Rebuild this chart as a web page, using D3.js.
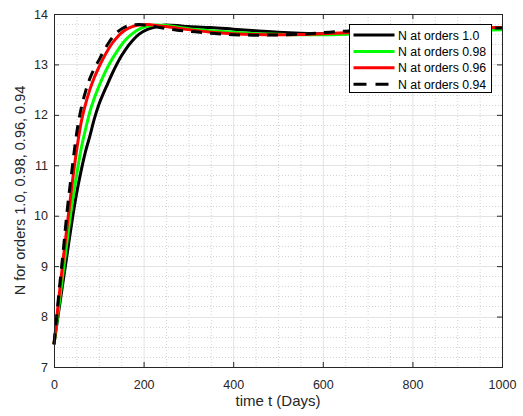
<!DOCTYPE html>
<html>
<head>
<meta charset="utf-8">
<script src="https://cdn.jsdelivr.net/npm/d3@7"></script>
<style>
  body { margin: 0; background: #fff; }
  svg { display: block; font-family: "Liberation Sans", Arial, Helvetica, sans-serif; }
</style>
</head>
<body>
<div id="chart"></div>
<script>
const times = [0, 10, 20, 30, 40, 50, 60, 70, 80, 90, 100, 110, 120, 130, 140, 150, 160, 175, 190, 210, 230, 250, 275, 300, 350, 400, 450, 500, 550, 600, 650, 700, 800, 900, 1000];

const order100 = [7.45, 8.07, 8.68, 9.28, 9.88, 10.42, 10.87, 11.26, 11.58, 11.92, 12.2, 12.42, 12.62, 12.82, 13.0, 13.16, 13.3, 13.47, 13.6, 13.7, 13.75, 13.78, 13.77, 13.75, 13.73, 13.7, 13.67, 13.64, 13.62, 13.61, 13.61, 13.62, 13.65, 13.69, 13.72];
const order098 = [7.45, 8.15, 8.85, 9.55, 10.22, 10.78, 11.3, 11.7, 12.06, 12.33, 12.56, 12.77, 12.95, 13.11, 13.25, 13.38, 13.49, 13.61, 13.7, 13.76, 13.78, 13.77, 13.74, 13.71, 13.67, 13.64, 13.61, 13.6, 13.59, 13.59, 13.6, 13.61, 13.64, 13.67, 13.69];
const order096 = [7.45, 8.3, 9.1, 9.85, 10.6, 11.27, 11.82, 12.2, 12.5, 12.74, 12.94, 13.12, 13.28, 13.42, 13.53, 13.62, 13.69, 13.75, 13.78, 13.79, 13.77, 13.75, 13.72, 13.69, 13.64, 13.61, 13.595, 13.59, 13.595, 13.61, 13.63, 13.65, 13.69, 13.72, 13.73];
const order094 = [7.45, 8.38, 9.25, 10.15, 10.9, 11.6, 12.1, 12.45, 12.72, 12.92, 13.08, 13.25, 13.4, 13.53, 13.63, 13.7, 13.75, 13.78, 13.79, 13.77, 13.74, 13.71, 13.68, 13.66, 13.62, 13.59, 13.58, 13.585, 13.6, 13.63, 13.66, 13.68, 13.71, 13.72, 13.72];

const seriesNames = ['N at orders 1.0', 'N at orders 0.98', 'N at orders 0.96', 'N at orders 0.94'];
const seriesValues = [order100, order098, order096, order094];
const seriesColors = ['#000000', '#00ff00', '#ff0000', '#000000'];
const seriesDash = [null, null, null, '11,8'];

const xTicks = [0, 200, 400, 600, 800, 1000];
const yTicks = [7, 8, 9, 10, 11, 12, 13, 14];

const width = 523, height = 416;
const margin = { top: 14, right: 21, bottom: 49, left: 54 };
const iw = width - margin.left - margin.right;
const ih = height - margin.top - margin.bottom;

const svg = d3.select('#chart').append('svg')
  .attr('width', width)
  .attr('height', height);

const g = svg.append('g').attr('transform', `translate(${margin.left},${margin.top})`);

const x = d3.scaleLinear().domain([0, 1000]).range([0, iw]);
const y = d3.scaleLinear().domain([7, 14]).range([ih, 0]);

// minor grid
const xMinor = d3.range(0, 1001, 50).filter(v => v % 200 !== 0);
const yMinor = d3.range(70, 141, 2).map(v => v / 10).filter(v => Math.abs(v - Math.round(v)) > 0.01);

g.append('g').selectAll('line').data(xMinor).enter().append('line')
  .attr('x1', d => x(d) + 0.5).attr('x2', d => x(d) + 0.5)
  .attr('y1', 0).attr('y2', ih)
  .attr('stroke', '#d4d4d4').attr('stroke-dasharray', '1,2');
g.append('g').selectAll('line').data(yMinor).enter().append('line')
  .attr('y1', d => Math.round(y(d)) + 0.5).attr('y2', d => Math.round(y(d)) + 0.5)
  .attr('x1', 0).attr('x2', iw)
  .attr('stroke', '#d4d4d4').attr('stroke-dasharray', '1,2');

// major grid
g.append('g').selectAll('line').data(xTicks).enter().append('line')
  .attr('x1', d => x(d) + 0.5).attr('x2', d => x(d) + 0.5)
  .attr('y1', 0).attr('y2', ih)
  .attr('stroke', '#e3e3e3');
g.append('g').selectAll('line').data(yTicks).enter().append('line')
  .attr('y1', d => Math.round(y(d)) + 0.5).attr('y2', d => Math.round(y(d)) + 0.5)
  .attr('x1', 0).attr('x2', iw)
  .attr('stroke', '#e3e3e3');

// curves
const line = d3.line()
  .x((d, i) => x(times[i]))
  .y(d => y(d))
  .curve(d3.curveMonotoneX);

seriesValues.forEach((vals, k) => {
  g.append('path')
    .datum(vals)
    .attr('fill', 'none')
    .attr('stroke', seriesColors[k])
    .attr('stroke-width', 3)
    .attr('stroke-dasharray', seriesDash[k])
    .attr('d', line);
});

// axes
const tickFont = '12.5px';
g.append('g').attr('transform', `translate(0,${ih})`)
  .call(d3.axisBottom(x).tickValues(xTicks).tickFormat(d3.format('d')).tickSizeInner(-5).tickSizeOuter(0).tickPadding(13));
g.append('g')
  .call(d3.axisLeft(y).tickValues(yTicks).tickFormat(d3.format('d')).tickSizeInner(-5).tickSizeOuter(0).tickPadding(6));
g.append('g')
  .call(d3.axisTop(x).tickValues(xTicks).tickSizeInner(-5).tickSizeOuter(0).tickFormat(''));
g.append('g').attr('transform', `translate(${iw},0)`)
  .call(d3.axisRight(y).tickValues(yTicks).tickSizeInner(-5).tickSizeOuter(0).tickFormat(''));

g.selectAll('.domain').remove();
g.selectAll('.tick line').attr('stroke', '#262626');
g.selectAll('.tick text').attr('fill', '#262626').style('font-size', tickFont);

g.append('rect')
  .attr('x', 0.5).attr('y', 0.5)
  .attr('width', iw).attr('height', ih)
  .attr('fill', 'none').attr('stroke', '#262626').attr('stroke-width', 1);

// labels
svg.append('text')
  .attr('x', margin.left + iw / 2).attr('y', 406)
  .attr('text-anchor', 'middle')
  .attr('fill', '#262626')
  .style('font-size', '15px')
  .text('time t (Days)');

svg.append('text')
  .attr('transform', `translate(25,${margin.top + ih / 2}) rotate(-90)`)
  .attr('text-anchor', 'middle')
  .attr('fill', '#262626')
  .style('font-size', '14.5px')
  .text('N for orders 1.0, 0.98, 0.96, 0.94');

// legend
const legend = svg.append('g').attr('transform', 'translate(349.5,24.5)');
legend.append('rect')
  .attr('width', 142).attr('height', 68)
  .attr('fill', '#fff').attr('stroke', '#000').attr('stroke-width', 1);

seriesNames.forEach((name, k) => {
  const yy = 10.5 + k * 16.4;
  legend.append('line')
    .attr('x1', 4).attr('x2', 45)
    .attr('y1', yy).attr('y2', yy)
    .attr('stroke', seriesColors[k])
    .attr('stroke-width', 3)
    .attr('stroke-dasharray', k === 3 ? '13,9' : null);
  legend.append('text')
    .attr('x', 48.5).attr('y', yy + 4.5)
    .attr('fill', '#000')
    .style('font-size', '12.3px')
    .text(name);
});
</script>
</body>
</html>
